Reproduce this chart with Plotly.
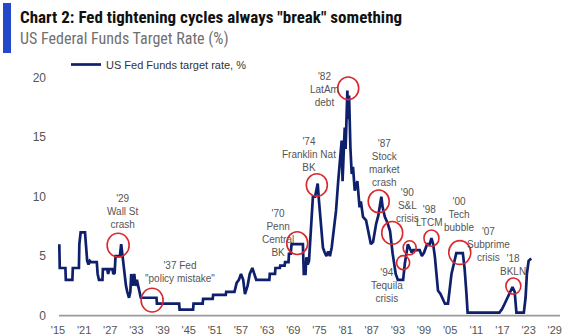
import plotly.graph_objects as go

# ---- data ----
years = [1915.3, 1915.4, 1916.7, 1916.8, 1918.3, 1918.4, 1919.8, 1919.9, 1920.2, 1921.2,
         1921.4, 1921.7, 1922.0, 1922.3, 1922.6, 1923.9, 1924.1, 1924.4, 1925.2, 1925.3,
         1926.3, 1926.5, 1926.8, 1927.5, 1927.7, 1928.0, 1928.2, 1929.2, 1929.5, 1929.8,
         1930.2, 1930.6, 1930.9, 1931.3, 1931.6, 1931.8, 1932.1, 1932.5, 1932.8, 1933.1,
         1933.4, 1933.7, 1934.0, 1937.6, 1937.7, 1942.8, 1942.9, 1946.0, 1946.1, 1948.2,
         1948.3, 1950.5, 1950.6, 1953.5, 1953.6, 1955.5, 1956.0, 1956.5, 1957.0, 1957.5,
         1957.9, 1958.5, 1959.0, 1959.6, 1960.0, 1960.5, 1963.5, 1963.6, 1964.8, 1964.9,
         1965.9, 1966.0, 1967.0, 1967.1, 1967.9, 1968.0, 1968.4, 1968.6, 1971.2, 1971.4,
         1971.8, 1972.0, 1972.3, 1972.6, 1973.0, 1973.5, 1974.0, 1974.6, 1974.9, 1975.4,
         1975.8, 1976.2, 1976.6, 1977.0, 1977.4, 1977.8, 1978.3, 1978.8, 1979.3, 1979.7,
         1980.1, 1980.3, 1980.6, 1980.8, 1981.0, 1981.4, 1981.6, 1981.8, 1982.1, 1982.4,
         1982.7, 1983.1, 1983.7, 1984.2, 1984.5, 1985.0, 1985.7, 1986.3, 1986.8, 1987.3,
         1987.6, 1988.0, 1988.5, 1989.2, 1989.5, 1990.0, 1990.6, 1991.2, 1991.8, 1992.5,
         1993.0, 1994.2, 1994.6, 1994.9, 1995.3, 1995.8, 1996.2, 1996.5, 1998.0, 1998.5,
         1999.0, 1999.7, 2000.3, 2000.7, 2001.1, 2001.5, 2001.9, 2002.2, 2002.8, 2003.4,
         2003.8, 2004.5, 2005.0, 2005.3, 2005.8, 2006.4, 2007.9, 2008.3, 2008.7, 2009.0,
         2016.3, 2016.9, 2017.5, 2018.0, 2018.7, 2019.3, 2019.8, 2020.2, 2021.9, 2022.3,
         2022.6, 2023.0, 2023.6]
rates = [6.0, 4.0, 4.0, 3.0, 3.0, 4.0, 4.0, 6.0, 7.0, 7.0,
         6.0, 4.6, 4.3, 4.6, 4.5, 4.5, 3.5, 3.0, 3.0, 3.9,
         3.9, 3.5, 3.9, 3.9, 3.5, 3.6, 5.0, 5.0, 6.0, 5.0,
         3.5, 2.5, 2.0, 1.5, 2.0, 3.5, 2.5, 3.5, 2.5, 3.0,
         2.5, 2.0, 1.5, 1.5, 1.0, 1.0, 0.5, 0.5, 1.0, 1.0,
         1.4, 1.4, 1.75, 1.75, 2.0, 2.0, 2.75, 3.0, 3.5, 3.0,
         1.8, 2.5, 3.5, 4.0, 3.5, 3.0, 3.0, 3.5, 3.5, 4.0,
         4.0, 4.2, 4.2, 4.5, 4.5, 5.2, 5.2, 6.0, 6.0, 3.5,
         3.5, 4.9, 4.3, 4.6, 7.0, 10.0, 10.0, 11.1, 9.6, 7.0,
         5.7, 5.3, 5.0, 5.4, 5.0, 5.7, 7.5, 8.8, 11.3, 13.0,
         14.7, 11.3, 13.5, 15.8, 14.0, 18.9, 16.5, 18.5, 14.1, 11.9,
         12.5, 10.5, 11.3, 9.1, 9.6, 8.3, 8.0, 7.0, 6.0, 6.2,
         6.9, 7.7, 8.4, 10.0, 9.1, 8.3, 7.8, 7.1, 5.2, 3.5,
         3.0, 3.0, 4.4, 5.3, 6.0, 5.6, 5.3, 5.5, 5.5, 5.0,
         5.3, 6.0, 6.0, 6.5, 6.0, 4.9, 3.2, 2.1, 1.8, 1.25,
         1.0, 1.0, 2.5, 3.5, 4.3, 5.25, 5.25, 4.0, 2.0, 0.25,
         0.25, 0.55, 1.0, 1.4, 2.0, 2.4, 2.0, 0.25, 0.25, 1.5,
         3.5, 4.6, 4.8]

series_name = "US Fed Funds target rate, %"

tick_years = [1915, 1921, 1927, 1933, 1939, 1945, 1951, 1957, 1963, 1969, 1975,
              1981, 1987, 1993, 1999, 2005, 2011, 2017, 2023, 2029]
tick_text = ["'15", "'21", "'27", "'33", "'39", "'45", "'51", "'57", "'63", "'69", "'75",
             "'81", "'87", "'93", "'99", "'05", "'11", "'17", "'23", "'29"]

# annotation labels (text, x year, y value)
label_texts = ["'29<br>Wall St<br>crash", "'37 Fed<br>\"policy mistake\"",
               "'70<br>Penn<br>Central<br>BK", "'74<br>Franklin Nat<br>BK",
               "'82<br>LatAm<br>debt", "'87<br>Stock<br>market<br>crash",
               "'90<br>S&L<br>crisis", "'94<br>Tequila<br>crisis", "'98<br>LTCM",
               "'00<br>Tech<br>bubble", "'07<br>Subprime<br>crisis", "'18<br>BKLN"]
label_x = [1929.9, 1943.0, 1965.5, 1972.6, 1976.1, 1990.0,
           1995.1, 1990.5, 2000.2, 2007.0, 2013.7, 2019.4]
label_y = [8.78, 3.70, 6.90, 13.5, 19.0, 12.86,
           9.29, 2.56, 8.36, 8.50, 6.00, 4.29]

# circled events (x year, y value, radius px)
circle_x = [1928.8, 1936.6, 1969.9, 1974.4, 1981.6, 1988.6, 1991.7, 1994.2, 1995.7, 2000.7, 2007.2, 2019.5]
circle_y = [5.92, 1.30, 6.09, 10.97, 19.1, 9.6, 6.95, 4.45, 5.7, 6.51, 5.3, 2.48]
circle_r = [11, 11, 10.5, 10.5, 10.5, 10.5, 10.5, 6.5, 6.5, 7.5, 11, 7.5]

# axis extent of the baseline
base_start, base_end = 1915.23, 2030.2

# ---- figure ----
L, R, T, B = 54, 7, 74, 18
W, H = 567, 336
pw, ph = W - L - R, H - T - B


def px_x(px):
    return (px - L) / pw


def px_y(py):
    return (H - B - py) / ph


fig = go.Figure()
fig.add_trace(go.Scatter(x=years, y=rates, mode="lines", name=series_name,
                         line=dict(color="#0e1f6b", width=2.7),
                         showlegend=True, cliponaxis=False))

shapes = [dict(type="line", xref="x", yref="y", x0=base_start, x1=base_end, y0=0, y1=0,
               line=dict(color="#9a9a9a", width=1.6), layer="below")]
for cx, cy, r in zip(circle_x, circle_y, circle_r):
    shapes.append(dict(type="circle", xref="x", yref="y", xsizemode="pixel", ysizemode="pixel",
                       xanchor=cx, yanchor=cy, x0=-r, x1=r, y0=-r * 1.08, y1=r * 1.08,
                       line=dict(color="#d9282e", width=1.6)))
# blue accent bar beside the title
shapes.append(dict(type="rect", xref="paper", yref="paper",
                   x0=px_x(3), x1=px_x(11), y0=px_y(53), y1=px_y(3),
                   fillcolor="#2349c8", line=dict(width=0), layer="above"))

annotations = []
for t, x, y in zip(label_texts, label_x, label_y):
    annotations.append(dict(text=t, x=x, y=y, xref="x", yref="y", showarrow=False,
                            xanchor="center", yanchor="middle",
                            font=dict(family="Liberation Sans, Arial", size=10, color="#555555")))
annotations.append(dict(text="<b>Chart 2: Fed tightening cycles always \"break\" something</b>",
                        x=px_x(18), y=px_y(16.5), xref="paper", yref="paper", showarrow=False,
                        xanchor="left", yanchor="middle",
                        font=dict(family="Liberation Sans Narrow, Roboto Condensed, Liberation Sans", size=17, color="#111111")))
annotations.append(dict(text="US Federal Funds Target Rate (%)",
                        x=px_x(18), y=px_y(38.5), xref="paper", yref="paper", showarrow=False,
                        xanchor="left", yanchor="middle",
                        font=dict(family="Liberation Sans Narrow, Roboto Condensed, Liberation Sans", size=16, color="#707070")))

fig.update_layout(
    width=W, height=H,
    margin=dict(l=L, r=R, t=T, b=B, pad=0, autoexpand=False),
    paper_bgcolor="white", plot_bgcolor="white",
    shapes=shapes, annotations=annotations,
    showlegend=True,
    legend=dict(x=px_x(66), y=px_y(50), xanchor="left", yanchor="top",
                bgcolor="rgba(0,0,0,0)", borderwidth=0,
                font=dict(family="Liberation Sans, Arial", size=11, color="#333333"),
                tracegroupgap=0, itemwidth=30),
    xaxis=dict(range=[base_start - 5 / 4.357, base_end], tickmode="array",
               tickvals=tick_years, ticktext=tick_text,
               showgrid=False, zeroline=False, showline=False, ticks="",
               ticklabelstandoff=4, automargin=False,
               tickfont=dict(family="Liberation Sans, Arial", size=11, color="#555555"),
               fixedrange=True),
    yaxis=dict(range=[-0.2, 20.3], tickmode="array", tickvals=[0, 5, 10, 15, 20],
               showgrid=False, zeroline=False, showline=False, ticks="", ticklabelstandoff=7,
               automargin=False,
               tickfont=dict(family="Liberation Sans, Arial", size=12, color="#555555"),
               fixedrange=True),
)

fig.write_html("out.html")
